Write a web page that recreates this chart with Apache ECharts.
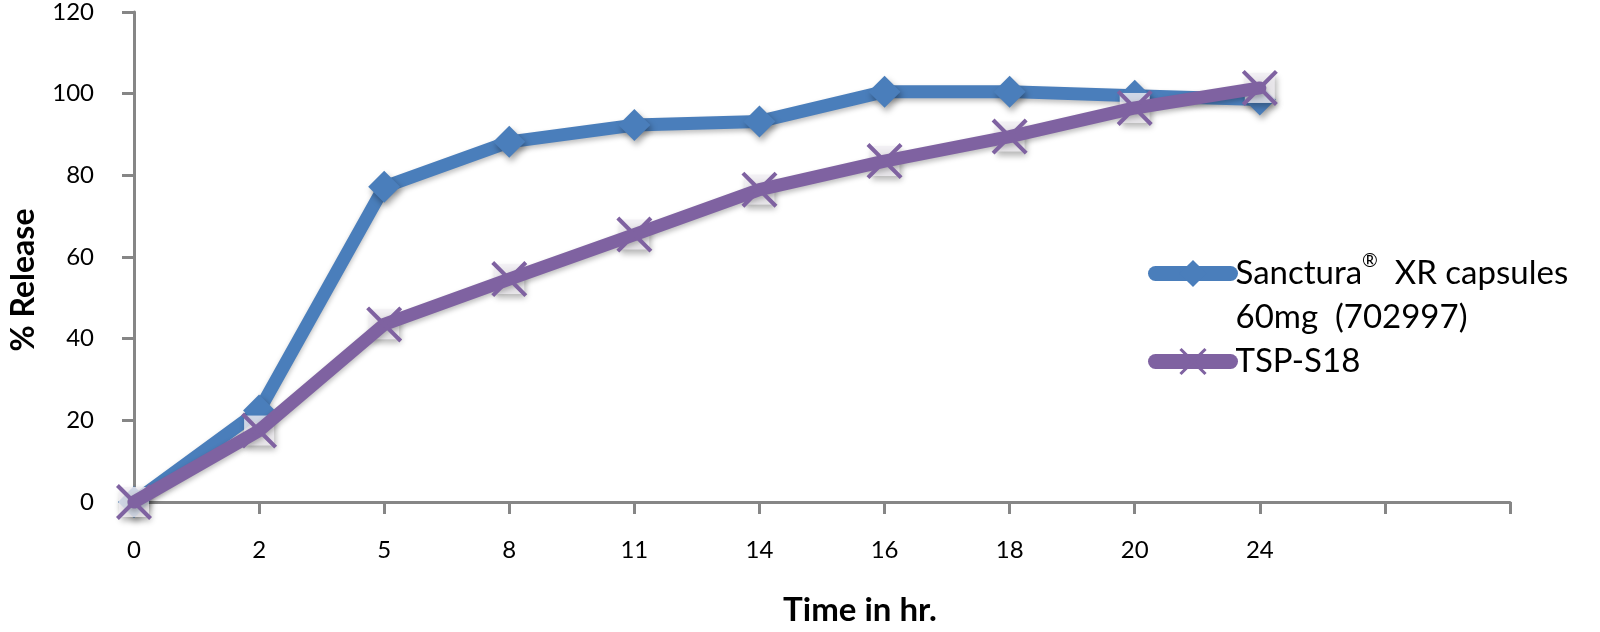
<!DOCTYPE html>
<html><head><meta charset="utf-8">
<script src="https://cdn.jsdelivr.net/npm/echarts@6/dist/echarts.min.js"></script>
<style>html,body{margin:0;padding:0;background:#fff}#c{width:1600px;height:632px}</style>
</head><body><div id="c"></div>
<script>
var categories = ['0','2','5','8','11','14','16','18','20','24','',''];
var sancturaName = 'Sanctura®  XR capsules 60mg  (702997)';
var sanctura = [0, 22.4, 77.2, 88.2, 92.3, 93.2, 100.5, 100.5, 99.5, 98.6];
var tspName = 'TSP-S18';
var tsp = [0, 17.5, 43.5, 54.6, 65.5, 76.5, 83.5, 89.5, 96.5, 101.4];
var yTicks = {min: 0, max: 120, interval: 20};

var FONT = 'Lato';
var blue = '#4a7ebb', purple = '#7f62a1', axisGray = '#868686';
var xPath = 'path://M0,1.6 L1.6,0 L10,8.4 L18.4,0 L20,1.6 L11.6,10 L20,18.4 L18.4,20 L10,11.6 L1.6,20 L0,18.4 L8.4,10 Z';
var markShadow = {shadowBlur: 6, shadowColor: 'rgba(0,0,0,0.35)', shadowOffsetX: 2, shadowOffsetY: 4};
var chart = echarts.init(document.getElementById('c'), null, {renderer: 'canvas'});
chart.setOption({
  animation: false,
  backgroundColor: '#fff',
  textStyle: {fontFamily: FONT},
  grid: {left: 133, right: 90, top: 9, bottom: 120, containLabel: false},
  legend: {
    orient: 'vertical', left: 1143, top: 208, itemGap: 11,
    itemWidth: 75, itemHeight: 34,
    data: [sancturaName, tspName],
    lineStyle: {width: 15, cap: 'round'},
    formatter: function (n) {
      return n === sancturaName
        ? '{n|\u00a0}\n{n|Sanctura}{s|®}{n|  XR capsules}\n{n|60mg  (702997)}'
        : '{n|' + n + '}';
    },
    textStyle: {
      fontFamily: FONT, fontSize: 33, color: '#000',
      rich: {
        n: {fontFamily: FONT, fontSize: 33, color: '#000', lineHeight: 44},
        s: {fontFamily: FONT, fontSize: 19, color: '#000', lineHeight: 34, verticalAlign: 'top'}
      }
    }
  },
  xAxis: {
    type: 'category', data: categories, boundaryGap: false,
    name: 'Time in hr.', nameLocation: 'middle', nameGap: 92,
    nameTextStyle: {fontFamily: FONT, fontSize: 33, fontWeight: 'bold', color: '#000', padding: [0, 0, 0, 76]},
    axisLine: {lineStyle: {color: axisGray, width: 3}},
    axisTick: {show: true, length: 12, alignWithLabel: true, interval: 0, lineStyle: {color: axisGray, width: 3}},
    axisLabel: {interval: 0, margin: 36, fontFamily: FONT, fontSize: 24, color: '#000'},
    splitLine: {show: false}
  },
  yAxis: {
    type: 'value', min: yTicks.min, max: yTicks.max, interval: yTicks.interval,
    name: '% Release', nameLocation: 'middle', nameGap: 94, nameRotate: 90,
    nameTextStyle: {fontFamily: FONT, fontSize: 32, fontWeight: 'bold', color: '#000', padding: [0, 46, 0, 0]},
    axisLine: {show: true, lineStyle: {color: axisGray, width: 3}},
    axisTick: {show: true, length: 12, lineStyle: {color: axisGray, width: 3}},
    axisLabel: {margin: 40, fontFamily: FONT, fontSize: 24, color: '#000'},
    splitLine: {show: false}
  },
  series: [
    {
      name: sancturaName, type: 'line', data: sanctura, clip: false, z: 3,
      symbol: 'diamond', symbolSize: [32, 32], showAllSymbol: true,
      lineStyle: {color: blue, width: 13, cap: 'round', join: 'round',
        shadowBlur: 5, shadowColor: 'rgba(0,0,0,0.25)', shadowOffsetY: 3},
      itemStyle: Object.assign({color: blue}, markShadow)
    },
    {
      name: 'tspBox', type: 'scatter', data: tsp, z: 4, silent: true,
      symbol: 'rect', symbolSize: 30, clip: false,
      itemStyle: Object.assign({color: '#f1eff4'}, markShadow)
    },
    {
      name: tspName, type: 'line', data: tsp, clip: false, z: 5,
      symbol: xPath, symbolSize: 36, showAllSymbol: true,
      lineStyle: {color: purple, width: 13, cap: 'round', join: 'round',
        shadowBlur: 5, shadowColor: 'rgba(0,0,0,0.25)', shadowOffsetY: 3},
      itemStyle: {color: purple}
    }
  ]
});
</script></body></html>
